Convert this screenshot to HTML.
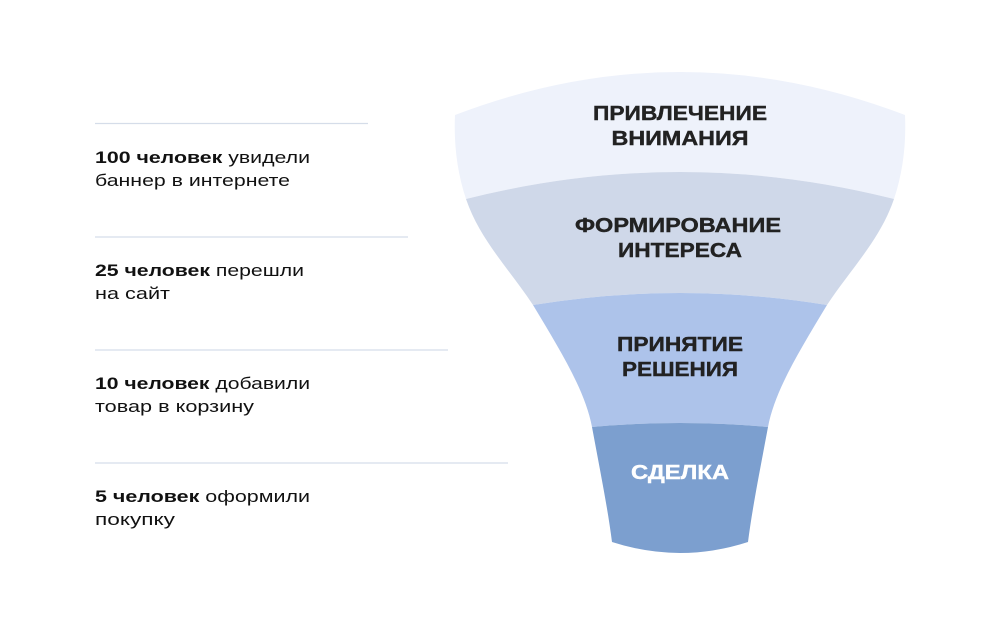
<!DOCTYPE html>
<html><head><meta charset="utf-8"><style>
html,body{margin:0;padding:0;background:#fff;}
svg{display:block;}
</style></head><body>
<svg width="1000" height="631" viewBox="0 0 1000 631" xmlns="http://www.w3.org/2000/svg">
<rect width="1000" height="631" fill="#fff"/>
<g stroke="#d5dde9" stroke-width="1.3">
<line x1="95" y1="123.5" x2="368" y2="123.5"/>
<line x1="95" y1="237" x2="408" y2="237"/>
<line x1="95" y1="350" x2="448" y2="350"/>
<line x1="95" y1="463" x2="508" y2="463"/>
</g>
<g font-family="Liberation Sans, sans-serif" font-size="17" fill="#111">
<text x="95" y="163" textLength="215" lengthAdjust="spacingAndGlyphs"><tspan font-weight="bold">100 человек</tspan> увидели</text>
<text x="95" y="186" textLength="195" lengthAdjust="spacingAndGlyphs">баннер в интернете</text>
<text x="95" y="276" textLength="209" lengthAdjust="spacingAndGlyphs"><tspan font-weight="bold">25 человек</tspan> перешли</text>
<text x="95" y="299" textLength="75" lengthAdjust="spacingAndGlyphs">на сайт</text>
<text x="95" y="389" textLength="215" lengthAdjust="spacingAndGlyphs"><tspan font-weight="bold">10 человек</tspan> добавили</text>
<text x="95" y="412" textLength="159" lengthAdjust="spacingAndGlyphs">товар в корзину</text>
<text x="95" y="502" textLength="215" lengthAdjust="spacingAndGlyphs"><tspan font-weight="bold">5 человек</tspan> оформили</text>
<text x="95" y="525" textLength="80" lengthAdjust="spacingAndGlyphs">покупку</text>
</g>
<path fill="#eef2fb" d="M455,115 Q680,29 905,115 Q907,160 894,199 Q680,145 466,199 Q453,160 455,115Z"/>
<path fill="#cfd8e9" d="M466,199 Q680,145 894,199 C880,240 850,270 827,305 Q680,281 533,305 C510,270 480,240 466,199Z"/>
<path fill="#adc3ea" d="M533,305 Q680,281 827,305 C800,350 775,390 768,427 Q680,419 592,427 C585,390 560,350 533,305Z"/>
<path fill="#7c9fcf" d="M592,427 Q680,419 768,427 C760,470 752,510 748,542 Q680,564 612,542 C608,510 600,470 592,427Z"/>
<g font-family="Liberation Sans, sans-serif" font-size="20" font-weight="bold" fill="#222" text-anchor="middle" stroke="#222" stroke-width="0.4">
<text x="680" y="120" textLength="174" lengthAdjust="spacingAndGlyphs">ПРИВЛЕЧЕНИЕ</text>
<text x="680" y="145" textLength="137" lengthAdjust="spacingAndGlyphs">ВНИМАНИЯ</text>
<text x="678" y="232" textLength="206" lengthAdjust="spacingAndGlyphs">ФОРМИРОВАНИЕ</text>
<text x="680" y="257" textLength="124" lengthAdjust="spacingAndGlyphs">ИНТЕРЕСА</text>
<text x="680" y="351" textLength="126" lengthAdjust="spacingAndGlyphs">ПРИНЯТИЕ</text>
<text x="680" y="376" textLength="116" lengthAdjust="spacingAndGlyphs">РЕШЕНИЯ</text>
<text x="680" y="479" fill="#fff" stroke="#fff" textLength="98" lengthAdjust="spacingAndGlyphs">СДЕЛКА</text>
</g>
</svg>
</body></html>
